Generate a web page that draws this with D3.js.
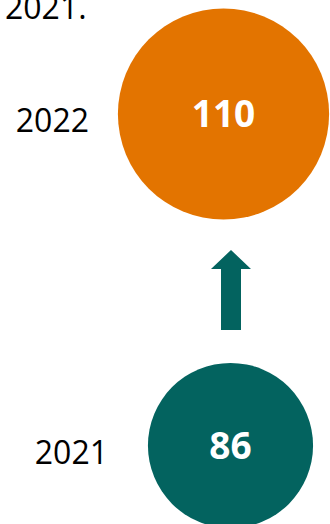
<!DOCTYPE html>
<html>
<head>
<meta charset="utf-8">
<script src="https://cdn.jsdelivr.net/npm/d3@7"></script>
<style>
  html, body { margin: 0; padding: 0; background: #fff; overflow: hidden; }
  svg { display: block; }
</style>
</head>
<body>
<svg id="chart" width="330" height="524"></svg>
<script>
// Visits per year, shown as circles whose radius grows with the value
const years = ["2022", "2021"];
const values = [110, 86];
const colors = ["#E37400", "#03635F"];
const headline = "2021.";

const svg = d3.select("#chart");
const W = 330, H = 524;

// radius proportional to value
const r = d3.scaleLinear().domain([0, d3.max(values)]).range([0, 105.6]);

// vertical placement of each year
const y = d3.scalePoint().domain(years).range([114, 445.5]);

// horizontal centre of each circle and right end of its year label
const cx = d3.scaleOrdinal().domain(years).range([223.5, 230.5]);
const labelX = d3.scaleOrdinal().domain(years).range([89, 108]);

const data = years.map((yr, i) => ({ year: yr, value: values[i], color: colors[i] }));

// headline fragment at the top edge
svg.append("text")
  .attr("x", 5).attr("y", 19)
  .attr("font-family", "'Open Sans', sans-serif")
  .attr("font-size", 32)
  .attr("fill", "#000")
  .text(headline);

const g = svg.selectAll("g.item").data(data).join("g").attr("class", "item");

g.append("circle")
  .attr("cx", d => cx(d.year))
  .attr("cy", d => y(d.year))
  .attr("r", d => r(d.value))
  .attr("fill", d => d.color);

g.append("text")
  .attr("x", d => cx(d.year))
  .attr("y", d => y(d.year) + 13)
  .attr("text-anchor", "middle")
  .attr("font-family", "'Open Sans', sans-serif")
  .attr("font-weight", 700)
  .attr("font-size", 37)
  .attr("fill", "#fff")
  .text(d => d.value);

g.append("text")
  .attr("x", d => labelX(d.year))
  .attr("y", d => y(d.year) + 18)
  .attr("text-anchor", "end")
  .attr("font-family", "'Open Sans', sans-serif")
  .attr("font-size", 32)
  .attr("fill", "#000")
  .text(d => d.year);

// upward arrow between the two years
const ax = 231;
const tipY = 250, headY = 269, baseY = 330, headHalf = 20, shaftHalf = 10;
const arrow = d3.path();
arrow.moveTo(ax, tipY);
arrow.lineTo(ax + headHalf, headY);
arrow.lineTo(ax + shaftHalf, headY);
arrow.lineTo(ax + shaftHalf, baseY);
arrow.lineTo(ax - shaftHalf, baseY);
arrow.lineTo(ax - shaftHalf, headY);
arrow.lineTo(ax - headHalf, headY);
arrow.closePath();
svg.append("path").attr("d", arrow.toString()).attr("fill", colors[1]);
</script>
</body>
</html>
